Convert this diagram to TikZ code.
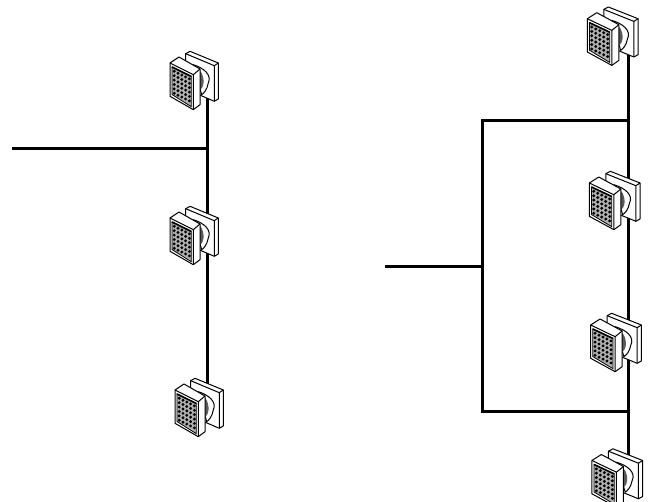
\documentclass[tikz,border=0pt]{standalone}
\usepackage{amsmath}
\usepackage{tikz}
\usetikzlibrary{calc}
\tikzset{
  wire/.style={line width=3pt},
  rim/.style={line width=1pt,line join=round},
  pics/lamp/.style={code={
    % back plate
    \draw [rim,fill=white](-21.3,-19.3)--(-17,-21.7)--(11.3,-10)--(11.3,26)--(7.3,28.3)--(-21.3,16)--cycle;
    \draw [rim](-21.3,-19.3)--(7.3,-7.3)--(7.3,28.3);
    \draw [rim](7.3,-7.3)--(11.3,-10);
    % neck
    \draw [rim,fill=white](-13.7,-8.3) .. controls (-3,-5) and (5,2) .. (1.3,10) .. controls (0,17) and (-3,20) .. (-5.3,21.7)--cycle;
    \fill [black!65](-7,-2) .. controls (-4,0) and (-3,8) .. (-3.5,10) .. controls (-4,14) and (-5.5,16) .. (-7,17)--cycle;
    % front block
    \draw [rim,fill=white](-37,-10)--(-28,-16)--(-7,-4)--(-7,31.7)--(-13.7,36.7)--(-37,23.3)--cycle;
    \draw [rim](-37,-10)--(-13.7,1.7)--(-13.7,36.7);
    \draw [rim](-13.7,1.7)--(-7,-4);
    \draw [line width=0.8pt,fill=black!30](-35,-6)--(-15.7,3.5)--(-15.7,33.7)--(-35,21.5)--cycle;
    \draw [line width=1.6pt](-35,-6)--(-15.7,3.5);
    \foreach \i in {0,...,4}{
      \foreach \j in {0,...,5}{
        \fill [black]($(-32.8,-1.7)+\i*(3.8,1.9)+\j*(0,4.4)$) circle (1.6);
      }
    }
  }}
}
\begin{document}
\begin{tikzpicture}[x=1pt,y=-1pt]
  \useasboundingbox (0,0) rectangle (649,502);
  \coordinate (LampA) at (207,73);
  \coordinate (LampB) at (207,228);
  \coordinate (LampC) at (212,400);
  \coordinate (LampD) at (626.2,28.7);
  \coordinate (LampE) at (628.2,193);
  \coordinate (LampF) at (629.5,335);
  \coordinate (LampG) at (630.8,470.5);
  \coordinate (PoleA) at (207.5,73);
  \coordinate (PoleC) at (207.5,400);
  \coordinate (PoleD) at (628,29);
  \coordinate (PoleG) at (628,470);
  \coordinate (FeedA) at (12,149);
  \coordinate (JoinA) at (207.5,149);
  \coordinate (FeedB) at (385,267);
  \coordinate (JoinB) at (482,267);
  \coordinate (BusTop) at (482,120.5);
  \coordinate (BusBot) at (482,412);
  \coordinate (TapTop) at (628,120.5);
  \coordinate (TapBot) at (628,412);
  \draw [wire](PoleA)--(PoleC);
  \draw [wire](FeedA)--(JoinA);
  \draw [wire](PoleD)--(PoleG);
  \draw [wire](FeedB)--(JoinB);
  \draw [wire](TapTop)--(BusTop)--(BusBot)--(TapBot);
  \pic at (LampA) {lamp};
  \pic at (LampB) {lamp};
  \pic at (LampC) {lamp};
  \pic [xscale=1.05] at (LampD) {lamp};
  \pic [xscale=1.05] at (LampE) {lamp};
  \pic [xscale=1.05] at (LampF) {lamp};
  \pic [xscale=1.05] at (LampG) {lamp};
\end{tikzpicture}
\end{document}
